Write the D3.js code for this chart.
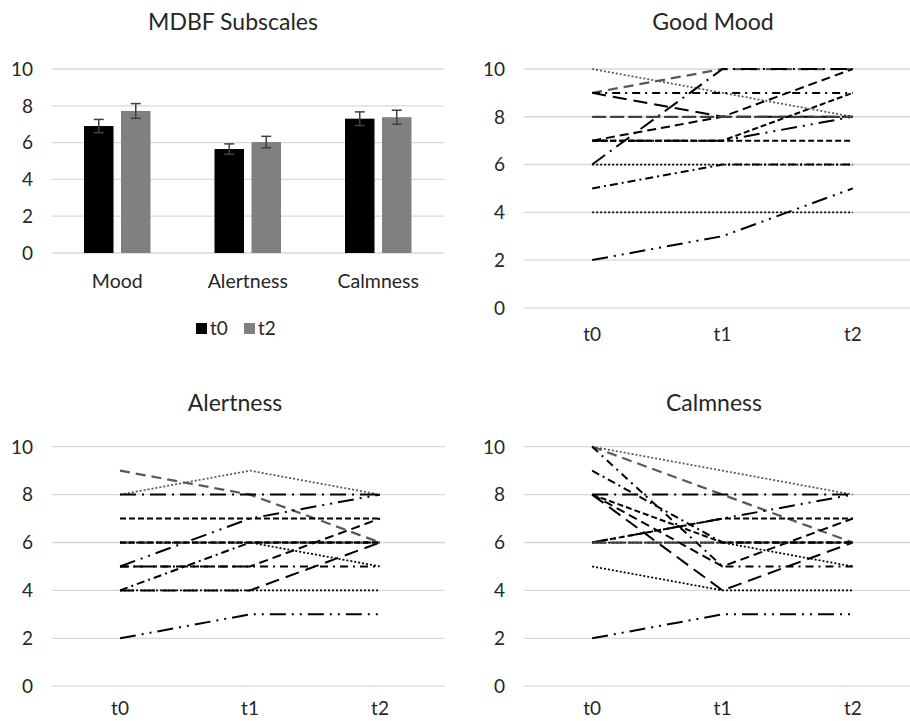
<!DOCTYPE html>
<html>
<head>
<meta charset="utf-8">
<script src="https://cdnjs.cloudflare.com/ajax/libs/d3/7.8.5/d3.min.js"></script>
<style>
  body { margin: 0; background: #fff; }
  svg text { font-family: Lato, "Open Sans", sans-serif; fill: #262626; }
</style>
</head>
<body>
<svg id="chart" width="910" height="721"></svg>
<script>
// bar panel data
const subscales = ["Mood", "Alertness", "Calmness"];
const meanT0 = [6.9, 5.65, 7.3];
const meanT2 = [7.72, 6.03, 7.38];
const errT0 = [0.36, 0.28, 0.37];
const errT2 = [0.4, 0.31, 0.38];

// individual scores per participant at t0, t1, t2
const times = ["t0", "t1", "t2"];
const goodMood = [
  [10, 9, 8], [9, 10, 10], [2, 3, 5], [4, 4, 4], [6, 10, 10], [7, 7, 7], [7, 7, 8],
  [9, 9, 9], [7, 8, 10], [9, 8, 8], [6, 6, 6], [8, 8, 8], [5, 6, 6], [7, 7, 9]
];
const alertness = [
  [8, 9, 8], [9, 8, 6], [2, 3, 3], [4, 4, 4], [8, 8, 8], [7, 7, 7], [5, 7, 8],
  [5, 5, 5], [5, 5, 7], [4, 4, 6], [6, 6, 5], [6, 6, 6], [4, 6, 6], [6, 6, 6]
];
const calmness = [
  [10, 9, 8], [10, 8, 6], [2, 3, 3], [5, 4, 4], [8, 8, 8], [6, 7, 7], [6, 7, 8],
  [10, 5, 5], [8, 5, 7], [8, 4, 6], [6, 6, 5], [6, 6, 6], [9, 6, 6], [8, 6, 6]
];
const yTicks = [0, 2, 4, 6, 8, 10];

const svg = d3.select("#chart");

// line look for each participant (same order in every panel)
const lineStyles = [
  { color: "#595959", dash: "2 2", w: 1.75 },
  { color: "#595959", dash: "10 6", w: 2.25 },
  { color: "#000", dash: "16 6 2 6 2 6", w: 2 },
  { color: "#000", dash: "2 2", w: 1.75 },
  { color: "#000", dash: "16 6 2 6", w: 2 },
  { color: "#000", dash: "6 3", w: 2 },
  { color: "#000", dash: "16 6 2 6 2 6", w: 2 },
  { color: "#000", dash: "8 5 2 5", w: 2 },
  { color: "#000", dash: "9 5", w: 2 },
  { color: "#000", dash: "14 7", w: 2 },
  { color: "#000", dash: "2 2", w: 1.75 },
  { color: "#404040", dash: "14 4", w: 2.25 },
  { color: "#000", dash: "8 4 2 4", w: 2 },
  { color: "#000", dash: "6 3", w: 2 }
];

// draws gridlines, y labels and title for one panel
function frame(g, x0, x1, y, title, titleX, titleY) {
  g.append("g").selectAll("line")
    .data(yTicks).enter().append("line")
    .attr("x1", x0).attr("x2", x1)
    .attr("y1", d => y(d)).attr("y2", d => y(d))
    .attr("stroke", "#d9d9d9").attr("stroke-width", 1.3);

  g.append("g").selectAll("text")
    .data(yTicks).enter().append("text")
    .attr("x", x0 - 19).attr("y", d => y(d))
    .attr("dy", "0.36em").attr("text-anchor", "end")
    .style("font-size", "19px")
    .text(d => d);

  g.append("text")
    .attr("x", titleX).attr("y", titleY)
    .attr("text-anchor", "middle")
    .style("font-size", "23px")
    .text(title);
}

// ---- MDBF Subscales bar chart ----
(function() {
  const g = svg.append("g");
  const x = d3.scaleBand().domain(subscales).range([52, 443.5]);
  const y = d3.scaleLinear().domain([0, 10]).range([253, 69]);
  frame(g, 52, 443.5, y, "MDBF Subscales", 233, 30);

  const barW = 29.5, gap = 7.5;
  const groups = [
    { key: "t0", vals: meanT0, errs: errT0, color: "#000000", off: -(barW + gap / 2) },
    { key: "t2", vals: meanT2, errs: errT2, color: "#808080", off: gap / 2 }
  ];

  groups.forEach(s => {
    const cx = c => x(c) + x.bandwidth() / 2 + s.off;
    g.append("g").selectAll("rect")
      .data(subscales).enter().append("rect")
      .attr("x", cx)
      .attr("y", (c, i) => y(s.vals[i]))
      .attr("width", barW)
      .attr("height", (c, i) => y(0) - y(s.vals[i]))
      .attr("fill", s.color);

    const eb = g.append("g").attr("stroke", "#404040").attr("stroke-width", 1.5);
    subscales.forEach((c, i) => {
      const mx = cx(c) + barW / 2;
      const hi = y(s.vals[i] + s.errs[i]), lo = y(s.vals[i] - s.errs[i]);
      eb.append("line").attr("x1", mx).attr("x2", mx).attr("y1", hi).attr("y2", lo);
      eb.append("line").attr("x1", mx - 5).attr("x2", mx + 5).attr("y1", hi).attr("y2", hi);
      eb.append("line").attr("x1", mx - 5).attr("x2", mx + 5).attr("y1", lo).attr("y2", lo);
    });
  });

  g.append("g").selectAll("text")
    .data(subscales).enter().append("text")
    .attr("x", c => x(c) + x.bandwidth() / 2)
    .attr("y", 281).attr("dy", "0.36em")
    .attr("text-anchor", "middle")
    .style("font-size", "19.5px")
    .text(c => c);

  // legend
  const leg = g.append("g");
  [["t0", "#000000", 196], ["t2", "#808080", 244]].forEach(([lab, col, lx]) => {
    leg.append("rect").attr("x", lx).attr("y", 323).attr("width", 11).attr("height", 11).attr("fill", col);
    leg.append("text").attr("x", lx + 14).attr("y", 328).attr("dy", "0.36em")
      .style("font-size", "19px").text(lab);
  });
})();

// ---- individual line panels ----
function linePanel(data, title, x0, x1, yTop, yBottom, tx, ty, labelGap) {
  const g = svg.append("g");
  const x = d3.scalePoint().domain(times).range([x0, x1]).padding(0.5);
  const y = d3.scaleLinear().domain([0, 10]).range([yBottom, yTop]);
  frame(g, x0 - 3, x1, y, title, tx, ty);

  const line = d3.line().x((v, i) => x(times[i])).y(v => y(v));

  g.append("g").selectAll("path")
    .data(data).enter().append("path")
    .attr("d", line)
    .attr("fill", "none")
    .attr("stroke", (d, i) => lineStyles[i].color)
    .attr("stroke-width", (d, i) => lineStyles[i].w)
    .attr("stroke-dasharray", (d, i) => lineStyles[i].dash);

  g.append("g").selectAll("text")
    .data(times).enter().append("text")
    .attr("x", t => x(t)).attr("y", yBottom + labelGap).attr("dy", "0.32em")
    .attr("text-anchor", "middle")
    .style("font-size", "19px")
    .text(t => t);
}

linePanel(goodMood, "Good Mood", 527, 918, 69, 307.8, 713, 30, 27);
linePanel(alertness, "Alertness", 55, 445, 446.7, 686.2, 235, 411, 23);
linePanel(calmness, "Calmness", 527, 918, 446.7, 686.2, 714, 411, 23);
</script>
</body>
</html>
